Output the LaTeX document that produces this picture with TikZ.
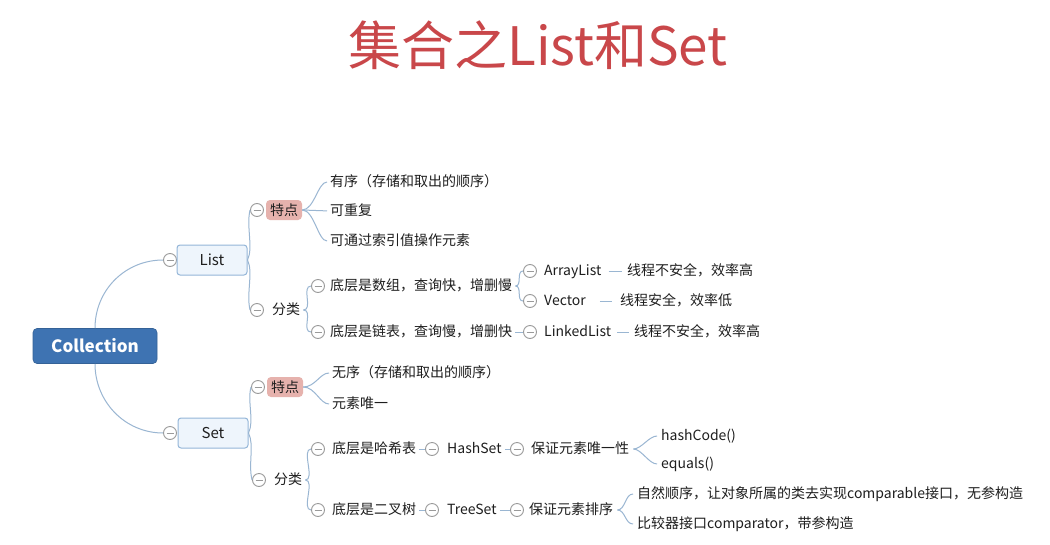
\documentclass[tikz,border=0pt]{standalone}
\usepackage{fontspec}
\setmainfont{Noto Sans CJK SC}
\definecolor{linkc}{HTML}{9AB6D2}
\definecolor{colc}{HTML}{9A9A9A}
\definecolor{txtc}{HTML}{1E1E1E}
\definecolor{titlec}{HTML}{C9474A}
\definecolor{collfill}{HTML}{3E73B2}
\definecolor{catfill}{HTML}{EEF5FC}
\definecolor{catdraw}{HTML}{94B6D8}
\definecolor{featfill}{HTML}{E6B2AD}
\begin{document}
\begin{tikzpicture}[x=1pt,y=-1pt,
  txt/.style={anchor=west, inner sep=0pt, font=\fontsize{14}{16}\selectfont, text=txtc, text height=11pt, text depth=2.5pt},
  col/.style={circle, draw=colc, line width=0.9pt, fill=white, minimum size=13pt, inner sep=0pt,
    path picture={\draw[colc, line width=0.9pt] ([xshift=3pt]path picture bounding box.west) -- ([xshift=-3pt]path picture bounding box.east);}},
  link/.style={draw=linkc, line width=1pt},
  coll/.style={rounded corners=4pt, fill=collfill, draw=collfill!85!black, line width=0.6pt, text=white, font=\fontsize{17}{20}\selectfont\bfseries, minimum width=124pt, minimum height=35pt, inner sep=0pt},
  cat/.style={rounded corners=3pt, fill=catfill, draw=catdraw, line width=1pt, text=txtc, font=\fontsize{15}{18}\selectfont, minimum width=70pt, minimum height=30pt, inner sep=0pt},
  feat/.style={rounded corners=4pt, fill=featfill, text=txtc, font=\fontsize{14}{16}\selectfont, minimum width=36pt, minimum height=20pt, inner sep=0pt},
  title/.style={font=\fontsize{53}{58}\selectfont, text=titlec, inner sep=0pt}]
\useasboundingbox[fill=white] (0,0) rectangle (1050,544);

\node[title] (title) at (538,45) {集合之List和Set};

\node[coll] (coll) at (95,346) {Collection};
\node[col] (lc) at (170,260) {};
\node[cat] (list) at (212,260) {List};
\node[col] (sc) at (170,433) {};
\node[cat] (set) at (213,433) {Set};
\draw[link] (coll.north) .. controls +(0,-38) and +(-38,0) .. (lc.west);
\draw[link] (coll.south) .. controls +(0,38) and +(-38,0) .. (sc.west);

% List
\node[col] (ltc) at (257,210) {};
\node[feat] (ltd) at (284,210) {特点};
\node[txt] (l1) at (330,182) {有序（存储和取出的顺序）};
\node[txt] (l2) at (330,211) {可重复};
\node[txt] (l3) at (330,241) {可通过索引值操作元素};
\node[col] (lfc) at (257,310) {};
\node[txt] (lfl) at (272,310) {分类};
\node[col] (la1c) at (318,286) {};
\node[txt] (la1) at (330,286) {底层是数组，查询快，增删慢};
\node[col] (la2c) at (318,332) {};
\node[txt] (la2) at (330,332) {底层是链表，查询慢，增删快};
\node[col] (alc) at (530,271) {};
\node[txt] (al) at (544,271) {ArrayList};
\node[txt] (alt) at (627,271) {线程不安全，效率高};
\node[col] (vc) at (530,301) {};
\node[txt] (v) at (544,301) {Vector};
\node[txt] (vt) at (620,301) {线程安全，效率低};
\node[col] (llc) at (530,332) {};
\node[txt] (ll) at (544,332) {LinkedList};
\node[txt] (llt) at (634,332) {线程不安全，效率高};

\draw[link] (list.east) .. controls +(6,-12) and +(-4,16) .. (ltc.west);
\draw[link] (list.east) .. controls +(6,12) and +(-4,-16) .. (lfc.west);
\draw[link,shorten >=3pt] (ltd.east) .. controls +(12,0) and +(-12,0) .. (l1.west);
\draw[link,shorten >=3pt] (ltd.east) -- (l2.west);
\draw[link,shorten >=3pt] (ltd.east) .. controls +(12,0) and +(-12,0) .. (l3.west);
\draw[link] ([xshift=3pt]lfl.east) .. controls +(10,0) and +(-10,0) .. (la1c.west);
\draw[link] ([xshift=3pt]lfl.east) .. controls +(10,0) and +(-10,0) .. (la2c.west);
\draw[link] ([xshift=3pt]la1.east) .. controls +(7,0) and +(-7,0) .. (alc.west);
\draw[link] ([xshift=3pt]la1.east) .. controls +(7,0) and +(-7,0) .. (vc.west);
\draw[link] ([xshift=3pt]la2.east) -- (llc.west);
\draw[link,shorten <=7pt,shorten >=5pt] (al.east) -- (alt.west);
\draw[link,shorten <=14pt,shorten >=8pt] (v.east) -- (vt.west);
\draw[link,shorten <=6pt,shorten >=5pt] (ll.east) -- (llt.west);

% Set
\node[col] (stc) at (258,387) {};
\node[feat] (std) at (285,387) {特点};
\node[txt] (s1) at (332,373) {无序（存储和取出的顺序）};
\node[txt] (s2) at (332,404) {元素唯一};
\node[col] (sfc) at (259,480) {};
\node[txt] (sfl) at (274,480) {分类};
\node[col] (sa1c) at (318,449) {};
\node[txt] (sa1) at (332,449) {底层是哈希表};
\node[col] (hsc) at (432,449) {};
\node[txt] (hs) at (447,449) {HashSet};
\node[col] (huc) at (517,449) {};
\node[txt] (hu) at (531,449) {保证元素唯一性};
\node[txt] (h1) at (661,436) {hashCode()};
\node[txt] (h2) at (661,464) {equals()};
\node[col] (sa2c) at (318,510) {};
\node[txt] (sa2) at (332,510) {底层是二叉树};
\node[col] (tsc) at (432,510) {};
\node[txt] (ts) at (447,510) {TreeSet};
\node[col] (toc) at (517,510) {};
\node[txt] (to) at (529,510) {保证元素排序};
\node[txt] (t1) at (637,494) {自然顺序，让对象所属的类去实现comparable接口，无参构造};
\node[txt] (t2) at (637,524) {比较器接口comparator，带参构造};

\draw[link] (set.east) .. controls +(6,-12) and +(-4,14) .. (stc.west);
\draw[link] (set.east) .. controls +(6,12) and +(-4,-16) .. (sfc.west);
\draw[link,shorten >=3pt] (std.east) .. controls +(12,0) and +(-12,0) .. (s1.west);
\draw[link,shorten >=3pt] (std.east) .. controls +(12,0) and +(-12,0) .. (s2.west);
\draw[link] ([xshift=3pt]sfl.east) .. controls +(10,0) and +(-10,0) .. (sa1c.west);
\draw[link] ([xshift=3pt]sfl.east) .. controls +(10,0) and +(-10,0) .. (sa2c.west);
\draw[link] ([xshift=3pt]sa1.east) -- (hsc.west);
\draw[link] ([xshift=3pt]hs.east) -- (huc.west);
\draw[link,shorten <=4pt,shorten >=4pt] (hu.east) .. controls +(12,0) and +(-12,0) .. (h1.west);
\draw[link,shorten <=4pt,shorten >=4pt] (hu.east) .. controls +(12,0) and +(-12,0) .. (h2.west);
\draw[link] ([xshift=3pt]sa2.east) -- (tsc.west);
\draw[link] ([xshift=3pt]ts.east) -- (toc.west);
\draw[link,shorten <=4pt,shorten >=4pt] (to.east) .. controls +(12,0) and +(-12,0) .. (t1.west);
\draw[link,shorten <=4pt,shorten >=4pt] (to.east) .. controls +(12,0) and +(-12,0) .. (t2.west);
\end{tikzpicture}
\end{document}
